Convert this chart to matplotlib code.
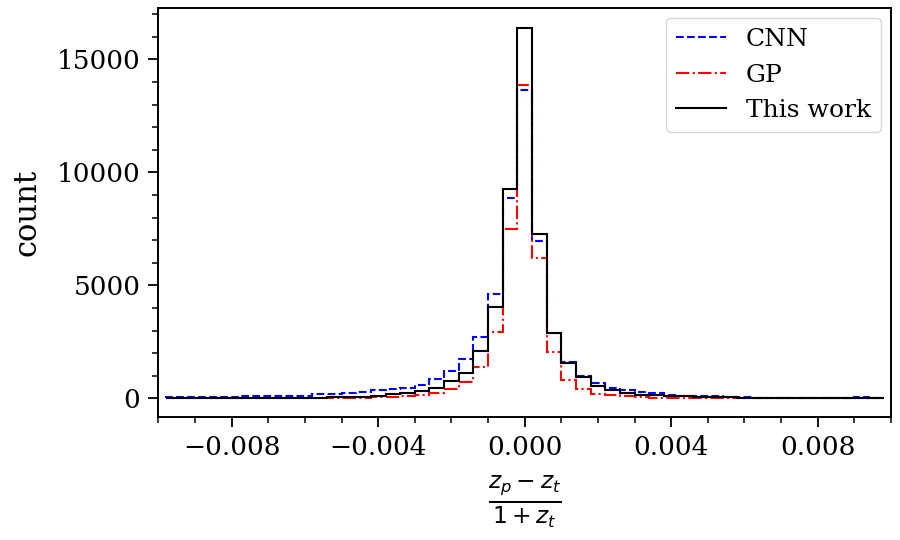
import numpy as np
import matplotlib
matplotlib.use("Agg")
import matplotlib.pyplot as plt
from matplotlib.ticker import MultipleLocator

# bin edges of the histogram: 49 bins of width 0.0004 centred on 0
edges = np.linspace(-0.0098, 0.0098, 50)

cnn = [75, 75, 75, 75, 75, 90, 90, 90, 110, 124,
       185, 185, 230, 300, 375, 430, 470, 580, 850, 1220,
       1730, 2730, 4600, 8880, 13650, 6970, 2900, 1590, 990, 700,
       450, 375, 273, 243, 154, 110, 110, 100, 80, 65,
       25, 25, 25, 25, 25, 25, 25, 40, 30]

gp = [10, 10, 10, 10, 10, 10, 10, 10, 10, 10,
      10, 15, 20, 30, 50, 70, 85, 130, 229, 405,
      742, 1377, 2920, 7510, 13850, 6214, 2040, 830, 405, 200,
      154, 110, 53, 20, 10, 10, 10, 10, 10, 10,
      10, 10, 10, 10, 10, 10, 10, 10, 10]

this_work = [15, 15, 15, 18, 18, 20, 20, 22, 25, 25,
             28, 40, 55, 80, 124, 185, 256, 344, 450, 772,
             1140, 2083, 4025, 9245, 16400, 7260, 2877, 1553, 962, 552,
             375, 229, 168, 160, 97, 95, 55, 50, 45, 30,
             20, 20, 18, 18, 15, 15, 15, 15, 15]

plt.rcParams["font.family"] = "DejaVu Serif"
plt.rcParams["mathtext.fontset"] = "dejavusans"

fig, ax = plt.subplots(figsize=(9, 5.4), dpi=100)
fig.subplots_adjust(left=0.176, right=0.99, top=0.985, bottom=0.228)

ax.stairs(cnn, edges, color="blue", linestyle="--", linewidth=1.5, label="CNN")
ax.stairs(gp, edges, color="red", linestyle="-.", linewidth=1.5, label="GP")
ax.stairs(this_work, edges, color="black", linestyle="-", linewidth=1.5, label="This work")

ax.set_xlim(-0.01, 0.01)
ax.set_ylim(-820, 17270)
ax.xaxis.set_major_locator(MultipleLocator(0.004))
ax.xaxis.set_minor_locator(MultipleLocator(0.001))
ax.yaxis.set_major_locator(MultipleLocator(5000))
ax.yaxis.set_minor_locator(MultipleLocator(1000))
ax.tick_params(which="major", length=7, width=1.3, labelsize=19, pad=6)
ax.tick_params(which="minor", length=4.2, width=1.1)
for s in ax.spines.values():
    s.set_linewidth(1.4)

ax.set_xlabel(r"$\frac{z_p - z_t}{1 + z_t}$", fontsize=24, labelpad=10)
ax.set_ylabel("count", fontsize=22, labelpad=10)
ax.legend(loc="upper right", fontsize=18, borderaxespad=0.4)

fig.savefig("out.png")
